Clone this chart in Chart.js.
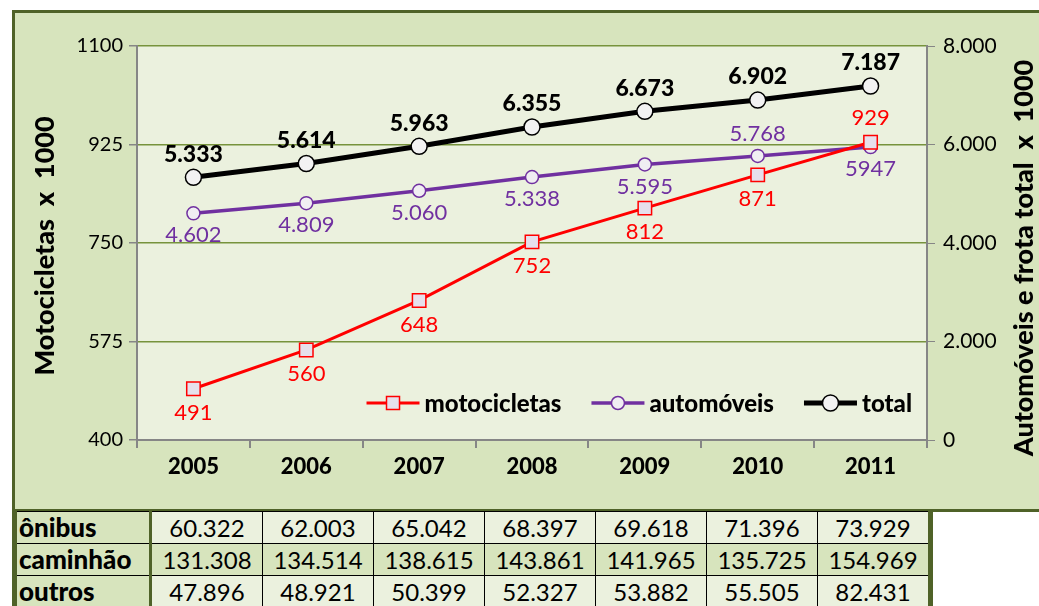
<!DOCTYPE html>
<html>
<head>
<meta charset="utf-8">
<script src="https://cdn.jsdelivr.net/npm/chart.js@4/dist/chart.umd.min.js"></script>
<style>
  html, body { margin: 0; padding: 0; background: #fff; }
  body { width: 1039px; height: 606px; position: relative; overflow: hidden; font-family: Lato, sans-serif; }
  #frame { position: absolute; left: 12px; top: 10px; width: 1040px; height: 496px; border: 3px solid #4F6228; background: #D7E4BD; }
  #wrap { position: absolute; left: 0; top: 0; width: 1039px; height: 510px; }
  #tbl { position: absolute; left: 12px; top: 511px; border-collapse: collapse; border-left: 5px solid #4F6228; border-right: 5px solid #4F6228; }
  #tbl td { height: 31px; padding: 0; border: 1px solid #000; font-size: 24px; text-align: center; width: 110px; background: #EBF1DE; line-height: 31px; }
  #tbl td.lbl { width: 130px; text-align: left; font-weight: 900; font-size: 26px; background: #D7E4BD; border-right: 3px solid #4F6228; padding-left: 2px; }
  #tbl tr.alt td { background: #D7E4BD; }
</style>
</head>
<body>
<div id="frame"></div>
<div id="wrap"><canvas id="chart"></canvas></div>
<table id="tbl"></table>
<script>
// categories
const years = ['2005', '2006', '2007', '2008', '2009', '2010', '2011']

// series (x 1000)
const motocicletas = [491, 560, 648, 752, 812, 871, 929]
const automoveis   = [4602, 4809, 5060, 5338, 5595, 5768, 5947]
const total        = [5333, 5614, 5963, 6355, 6673, 6902, 7187]

// table rows under the chart
const onibus   = ['60.322', '62.003', '65.042', '68.397', '69.618', '71.396', '73.929']
const caminhao = ['131.308', '134.514', '138.615', '143.861', '141.965', '135.725', '154.969']
const outros   = ['47.896', '48.921', '50.399', '52.327', '53.882', '55.505', '82.431']

// where each point label sits: a = above, b = below
const motoPos  = ['b', 'b', 'b', 'b', 'b', 'b', 'a']
const autoPos  = ['b', 'b', 'b', 'b', 'b', 'a', 'b']
const totalPos = ['a', 'a', 'a', 'a', 'a', 'a', 'a']

const leftTitle  = 'Motocicletas  x  1000'
const rightTitle = 'Automóveis e frota total  x  1000'

const FONT = 'Lato, Carlito, sans-serif'

// 5333 -> "5.333"
function fmt(v) {
  return String(v).replace(/\B(?=(\d{3})+(?!\d))/g, '.')
}

// build table
const tbl = document.getElementById('tbl')
;[['ônibus', onibus, ''], ['caminhão', caminhao, 'alt'], ['outros', outros, '']].forEach(([name, vals, cls]) => {
  const tr = document.createElement('tr')
  if (cls) tr.className = cls
  tr.innerHTML = `<td class="lbl">${name}</td>` + vals.map(v => `<td>${v}</td>`).join('')
  tbl.appendChild(tr)
})

// plot area background
const plotBg = {
  id: 'plotBg',
  beforeDraw(chart) {
    const { ctx, chartArea: a } = chart
    ctx.save()
    ctx.fillStyle = '#EBF1DE'
    ctx.fillRect(a.left, a.top, a.right - a.left, a.bottom - a.top)
    ctx.restore()
  }
}

// both axis titles read bottom to top
const axisTitles = {
  id: 'axisTitles',
  afterDraw(chart) {
    const { ctx, chartArea: a } = chart
    const mid = (a.top + a.bottom) / 2
    ctx.save()
    ctx.fillStyle = '#000'
    ctx.textAlign = 'center'
    ctx.textBaseline = 'middle'
    ;[[leftTitle, 45, mid + 3, 27], [rightTitle, 1024, mid + 15, 27]].forEach(([t, x, y, size]) => {
      ctx.save()
      ctx.translate(x, y)
      ctx.rotate(-Math.PI / 2)
      ctx.font = `900 ${size}px ${FONT}`
      ctx.fillText(t, 0, 0)
      ctx.restore()
    })
    ctx.restore()
  }
}

// value labels next to the points
const pointLabels = {
  id: 'pointLabels',
  afterDatasetsDraw(chart) {
    const ctx = chart.ctx
    ctx.save()
    ctx.textAlign = 'center'
    ctx.textBaseline = 'middle'
    chart.data.datasets.forEach((ds, i) => {
      chart.getDatasetMeta(i).data.forEach((pt, j) => {
        const above = ds.labelPos[j] === 'a'
        ctx.font = ds.labelFont
        ctx.fillStyle = ds.labelColor
        const txt = ds.plain && ds.plain.includes(j) ? String(ds.data[j]) : fmt(ds.data[j])
        ctx.fillText(txt, pt.x + (ds.labelDx || 0), pt.y + (above ? -ds.labelGap : ds.labelGap))
      })
    })
    ctx.restore()
  }
}

// legend inside the plot area, bottom right
const insideLegend = {
  id: 'insideLegend',
  afterDraw(chart) {
    const { ctx, chartArea: a } = chart
    const y = a.bottom - 37
    ctx.save()
    ctx.font = '900 24px ' + FONT
    ctx.textBaseline = 'middle'
    const items = chart.data.datasets.map(ds => ({ ds, w: 53 + 5 + ctx.measureText(ds.label).width }))
    const gap = 30
    let x = a.right - 15 - items.reduce((s, it) => s + it.w, 0) - gap * (items.length - 1)
    items.forEach(({ ds, w }) => {
      ctx.strokeStyle = ds.borderColor
      ctx.lineWidth = ds.borderWidth
      ctx.beginPath(); ctx.moveTo(x, y); ctx.lineTo(x + 53, y); ctx.stroke()
      ctx.fillStyle = ds.pointBackgroundColor
      ctx.lineWidth = ds.pointBorderWidth
      ctx.strokeStyle = ds.pointBorderColor
      const cx = x + 26.5, r = ds.legendR
      ctx.beginPath()
      if (ds.pointStyle === 'rect') ctx.rect(cx - r, y - r, 2 * r, 2 * r)
      else ctx.arc(cx, y, r, 0, Math.PI * 2)
      ctx.fill(); ctx.stroke()
      ctx.fillStyle = '#000'
      ctx.fillText(ds.label, x + 58, y + 1)
      x += w + gap
    })
    ctx.restore()
  }
}

new Chart(document.getElementById('chart'), {
  type: 'line',
  data: {
    labels: years,
    datasets: [
      {
        label: 'motocicletas', data: motocicletas, yAxisID: 'y',
        borderColor: '#FF0000', borderWidth: 3,
        pointStyle: 'rect', pointRadius: 9.5, pointBackgroundColor: '#E6E0EC', pointBorderColor: '#FF0000', pointBorderWidth: 1.5,
        labelPos: motoPos, labelFont: '22px ' + FONT, labelColor: '#FF0000', labelGap: 24, legendR: 6.5
      },
      {
        label: 'automóveis', data: automoveis, yAxisID: 'y2',
        borderColor: '#7030A0', borderWidth: 3.5,
        pointStyle: 'circle', pointRadius: 6.5, pointBackgroundColor: '#F0EEF2', pointBorderColor: '#7030A0', pointBorderWidth: 1.5,
        labelPos: autoPos, labelFont: '22px ' + FONT, labelColor: '#7030A0', labelGap: 22, plain: [6], legendR: 6.5
      },
      {
        label: 'total', data: total, yAxisID: 'y2',
        borderColor: '#000000', borderWidth: 5,
        pointStyle: 'circle', pointRadius: 8, pointBackgroundColor: '#F2F2F2', pointBorderColor: '#000000', pointBorderWidth: 1.5,
        labelPos: totalPos, labelFont: '900 23px ' + FONT, labelColor: '#000000', labelGap: 23, legendR: 8
      }
    ]
  },
  options: {
    responsive: true,
    maintainAspectRatio: false,
    animation: false,
    layout: { padding: { left: 22, right: 4, top: 46, bottom: 10 } },
    plugins: { legend: { display: false }, tooltip: { enabled: false } },
    scales: {
      x: {
        offset: true,
        grid: { offset: true, drawOnChartArea: false, tickLength: 8, tickColor: '#868686', lineWidth: 2 },
        border: { color: '#868686', width: 2 },
        ticks: { color: '#000', font: { family: FONT, size: 22, weight: '900' }, padding: 6 },
        afterFit: s => { s.height = 60 }
      },
      y: {
        position: 'left', min: 400, max: 1100,
        ticks: { stepSize: 175, color: '#000', font: { family: FONT, size: 20 }, padding: 6, callback: v => String(v) },
        grid: { color: '#77933C', lineWidth: 1.5, tickColor: '#868686', tickLength: 8 },
        border: { color: '#868686', width: 2 },
        afterFit: s => { s.width = 115 }
      },
      y2: {
        position: 'right', min: 0, max: 8000,
        ticks: { stepSize: 2000, color: '#000', font: { family: FONT, size: 21 }, padding: 8, callback: v => fmt(v) },
        grid: { drawOnChartArea: false, tickColor: '#868686', tickLength: 8 },
        border: { color: '#868686', width: 2 },
        afterFit: s => { s.width = 108 }
      }
    }
  },
  plugins: [plotBg, axisTitles, pointLabels, insideLegend]
})
</script>
</body>
</html>
